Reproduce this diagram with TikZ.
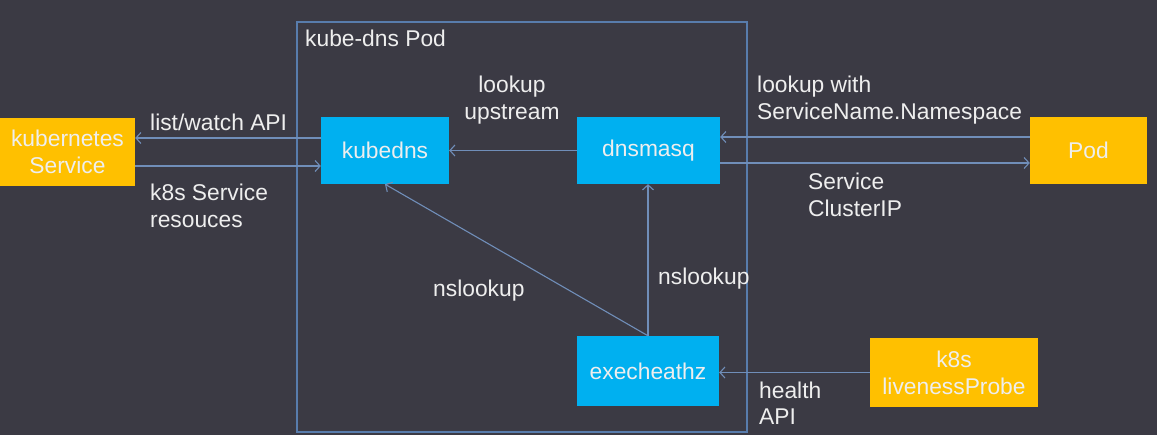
\documentclass[tikz,border=0pt]{standalone}
\usepackage{fontspec}
\setmainfont{Liberation Sans}
\usetikzlibrary{arrows.meta,calc}
\definecolor{bg}{RGB}{59,58,68}
\definecolor{orangebox}{RGB}{255,192,0}
\definecolor{bluebox}{RGB}{0,176,240}
\definecolor{linec}{RGB}{112,142,185}
\definecolor{framec}{RGB}{88,124,172}
\definecolor{txt}{RGB}{238,238,238}
\begin{document}
\begin{tikzpicture}[x=1pt,y=-1pt,
  every node/.style={font=\fontsize{22.8}{27}\selectfont, text=txt, inner sep=0pt},
  obox/.style={fill=orangebox, draw=none, align=center},
  bbox/.style={fill=bluebox, draw=none, align=center},
  lbl/.style={align=left, anchor=base west},
  arr/.style={draw=linec, line width=1.1pt, -{Straight Barb[length=5pt,width=11pt]}}]
\fill[bg] (0,0) rectangle (1157,435);
\useasboundingbox (0,0) rectangle (1157,435);
% frame
\draw[framec, line width=1.1pt] (297,22) rectangle (747,432);
\node[anchor=base west] (podlbl) at (305,47) {kube-dns Pod};
% boxes
\node[obox, minimum width=135pt, minimum height=68pt] (ksvc) at (67.5,152) {kubernetes\\Service};
\node[bbox, minimum width=128pt, minimum height=67pt] (kubedns) at (385,150.5) {kubedns};
\node[bbox, minimum width=143pt, minimum height=67pt] (dnsmasq) at (648.5,150.5) {dnsmasq};
\node[obox, minimum width=117pt, minimum height=67pt] (pod) at (1088.5,150.5) {Pod};
\node[bbox, minimum width=142pt, minimum height=70pt] (exec) at (648,371) {execheathz};
\node[obox, minimum width=168pt, minimum height=69pt] (live) at (954,372.5) {k8s\\livenessProbe};
% connectors
\draw[arr] ($(kubedns.west)+(0,-12.5)$) coordinate (a1) -- (a1 -| ksvc.east);
\draw[arr] ($(ksvc.east)+(0,14)$) coordinate (a2) -- (a2 -| kubedns.west);
\draw[arr] (dnsmasq.west) -- (kubedns.east);
\draw[arr] ($(pod.west)+(0,-13.5)$) coordinate (a3) -- (a3 -| dnsmasq.east);
\draw[arr] ($(dnsmasq.east)+(0,12.5)$) coordinate (a4) -- (a4 -| pod.west);
\draw[arr] (exec.north) -- (exec.north |- dnsmasq.south);
\draw[arr] (exec.north) -- (kubedns.south);
\draw[arr] (live.west) -- (live.west -| exec.east);
% labels (multi-line: base = last line's baseline)
\node[lbl] (l1) at (150,131) {list/watch API};
\node[lbl] (l2) at (150,228) {k8s Service\\resouces};
\node[align=center, anchor=base] (l3) at (512,120) {lookup\\upstream};
\node[lbl] (l4) at (757,120) {lookup with\\ServiceName.Namespace};
\node[lbl] (l5) at (808,217) {Service\\ClusterIP};
\node[lbl] (l6) at (433,297) {nslookup};
\node[lbl] (l7) at (658,285) {nslookup};
\node[lbl] (l8) at (759,425) {health\\API};
\end{tikzpicture}
\end{document}
